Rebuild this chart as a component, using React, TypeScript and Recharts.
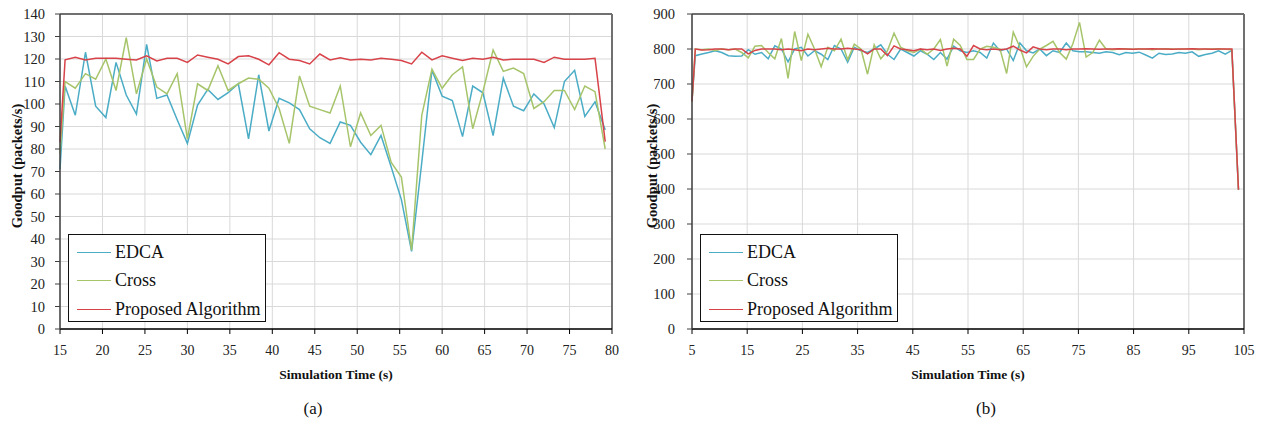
import React from 'react';
import { LineChart, Line, XAxis, YAxis, CartesianGrid, ReferenceLine } from 'recharts';

// ---------- Panel (a) ----------
const timeA = [15, 15.6, 16.8, 18, 19.2, 20.4, 21.6, 22.8, 24, 25.2, 26.4, 27.6, 28.8, 30, 31.2, 32.4, 33.6, 34.8, 36, 37.2, 38.4, 39.6, 40.8, 42, 43.2, 44.4, 45.6, 46.8, 48, 49.2, 50.4, 51.6, 52.8, 54, 55.2, 56.4, 57.6, 58.8, 60, 61.2, 62.4, 63.6, 64.8, 66, 67.2, 68.4, 69.6, 70.8, 72, 73.2, 74.4, 75.6, 76.8, 78, 79.2];
const edcaA = [71, 108, 95, 123, 99, 94, 118.5, 104, 95.5, 126.5, 102.5, 104, 93, 82.5, 99.5, 106.5, 102, 105, 109, 84.5, 113, 88, 102.5, 100.5, 97.5, 89, 85, 82.5, 92, 90.5, 83, 77.5, 86, 72, 57.5, 34.5, 74, 115, 103.5, 101.5, 85.5, 108, 105, 86, 111.5, 99, 97, 104.5, 100, 89.5, 110, 115, 94.5, 101, 88.5];
const crossA = [78, 110, 107, 113.5, 111, 120, 106, 129.5, 104.5, 120, 107.5, 104.5, 113.5, 84.5, 109, 106, 117, 106, 109, 111.5, 111, 107, 98, 82.5, 112.5, 99, 97.5, 96, 108, 81, 96, 86, 90.5, 74, 67.5, 35, 95, 115.5, 107, 113, 116.5, 89, 105.5, 124, 114.5, 116, 113.5, 98, 101, 106, 106, 97.5, 108, 105.5, 80];
const proposedA = [83, 119.6, 120.8, 119.6, 120.3, 120.3, 120.3, 119.9, 119.6, 121.4, 119.1, 120.3, 120.3, 118.5, 121.8, 120.8, 119.9, 117.8, 121.1, 121.4, 119.9, 117.4, 122.8, 119.9, 119.3, 117.8, 122.2, 119.6, 120.6, 119.6, 119.9, 119.6, 120.3, 119.9, 119.3, 117.8, 123.0, 119.6, 121.4, 120.3, 119.3, 120.3, 119.9, 120.8, 119.6, 119.9, 119.9, 119.9, 118.5, 120.8, 119.9, 119.9, 119.9, 120.3, 83.3];
const xTicksA = [15, 20, 25, 30, 35, 40, 45, 50, 55, 60, 65, 70, 75, 80];
const yTicksA = [0, 10, 20, 30, 40, 50, 60, 70, 80, 90, 100, 110, 120, 130, 140];

// ---------- Panel (b) ----------
const timeB = [5, 5.6, 6.8, 8, 9.2, 10.4, 11.6, 12.8, 14, 15.2, 16.4, 17.6, 18.8, 20, 21.2, 22.4, 23.6, 24.8, 26, 27.2, 28.4, 29.6, 30.8, 32, 33.2, 34.4, 35.6, 36.8, 38, 39.2, 40.4, 41.6, 42.8, 44, 45.2, 46.4, 47.6, 48.8, 50, 51.2, 52.4, 53.6, 54.8, 56, 57.2, 58.4, 59.6, 60.8, 62, 63.2, 64.4, 65.6, 66.8, 68, 69.2, 70.4, 71.6, 72.8, 74, 75.2, 76.4, 77.6, 78.8, 80, 81.2, 82.4, 83.6, 84.8, 86, 87.2, 88.4, 89.6, 90.8, 92, 93.2, 94.4, 95.6, 96.8, 98, 99.2, 100.4, 101.6, 102.8, 104];
const edcaB = [655, 781, 786, 790, 795, 790, 781, 779, 780, 798, 785, 790, 772, 809, 800, 763, 800, 805, 780, 795, 785, 770, 810, 800, 762, 805, 795, 790, 800, 812, 785, 770, 800, 790, 780, 795, 785, 770, 790, 771, 808, 795, 790, 795, 790, 774, 817, 795, 800, 767, 817, 795, 789, 800, 781, 795, 790, 817, 795, 792, 792, 790, 788, 792, 790, 784, 790, 788, 791, 783, 774, 788, 784, 786, 790, 788, 792, 779, 784, 788, 795, 785, 796, 398];
const crossB = [650, 800, 798, 800, 796, 800, 798, 800, 790, 775, 808, 810, 790, 772, 830, 716, 850, 767, 842, 800, 749, 805, 795, 828, 769, 814, 800, 728, 812, 772, 795, 845, 805, 795, 790, 800, 785, 800, 827, 751, 828, 810, 770, 770, 800, 808, 805, 800, 730, 848, 805, 749, 779, 800, 810, 822, 790, 771, 815, 876, 777, 790, 825, 800, 798, 800, 801, 799, 800, 800, 798, 800, 801, 800, 799, 800, 800, 798, 800, 800, 801, 799, 798, 398];
const proposedB = [650, 800, 797, 798, 800, 800, 798, 800, 800, 786, 796, 800, 800, 800, 798, 800, 798, 795, 800, 798, 800, 802, 800, 800, 802, 800, 798, 786, 800, 800, 781, 809, 800, 798, 795, 800, 798, 800, 796, 800, 802, 800, 779, 810, 800, 798, 800, 798, 800, 808, 797, 789, 806, 800, 798, 800, 800, 798, 800, 800, 801, 800, 799, 800, 800, 801, 800, 799, 800, 800, 801, 800, 800, 799, 800, 800, 801, 800, 800, 799, 800, 800, 800, 398];
const xTicksB = [5, 15, 25, 35, 45, 55, 65, 75, 85, 95, 105];
const yTicksB = [0, 100, 200, 300, 400, 500, 600, 700, 800, 900];

const seriesNames = ['EDCA', 'Cross', 'Proposed Algorithm'];
const seriesKeys = ['edca', 'cross', 'proposed'];
const seriesColors = ['#4bacc6', '#a6c46a', '#d8434a'];
const xTitle = 'Simulation Time (s)';
const yTitle = 'Goodput (packets/s)';

const SERIF = "'Times New Roman', 'Liberation Serif', 'DejaVu Serif', serif";

function buildRows(time: number[], e: number[], c: number[], p: number[]) {
  return time.map((t, i) => ({ t, edca: e[i], cross: c[i], proposed: p[i] }));
}

const dataA = buildRows(timeA, edcaA, crossA, proposedA);
const dataB = buildRows(timeB, edcaB, crossB, proposedB);

function LegendBox({ left }: { left: number }) {
  return (
    <div
      style={{
        position: 'absolute',
        left,
        top: 234,
        width: 196,
        height: 86,
        border: '1.5px solid #111',
        background: '#fff',
        fontFamily: SERIF,
        fontSize: 18,
        color: '#111',
      }}
    >
      {seriesNames.map((name, i) => (
        <div
          key={name}
          style={{ position: 'absolute', left: 8, top: 17 + i * 28.5 - 10, height: 20, display: 'flex', alignItems: 'center', whiteSpace: 'nowrap' }}
        >
          <div style={{ width: 34, height: 0, borderTop: `1.5px solid ${seriesColors[i]}`, marginRight: 4 }} />
          <span>{name}</span>
        </div>
      ))}
    </div>
  );
}

function Panel(props: {
  left: number;
  data: any[];
  xTicks: number[];
  yTicks: number[];
  yTickMargin: number;
  caption: string;
  captionX: number;
  yTitleX: number;
}) {
  const { left, data, xTicks, yTicks, yTickMargin, caption, captionX, yTitleX } = props;
  const xMin = xTicks[0];
  const xMax = xTicks[xTicks.length - 1];
  const yMax = yTicks[yTicks.length - 1];
  const plotLeft = left + 60;
  const plotCenter = left + 60 + 552 / 2;
  return (
    <>
      <div style={{ position: 'absolute', left, top: 0, width: 631, height: 362 }}>
        <LineChart width={631} height={362} data={data} margin={{ top: 14, right: 19, left: 0, bottom: 2 }}>
          <CartesianGrid stroke="#d9d9d9" strokeWidth={1} />
          <XAxis
            dataKey="t"
            type="number"
            domain={[xMin, xMax]}
            ticks={xTicks}
            interval={0}
            height={31}
            tickSize={5}
            tickMargin={11}
            axisLine={{ stroke: '#000', strokeWidth: 1.5 }}
            tickLine={{ stroke: '#000' }}
            tick={{ fill: '#222', fontSize: 14, fontFamily: SERIF }}
          />
          <YAxis
            type="number"
            domain={[0, yMax]}
            ticks={yTicks}
            interval={0}
            width={60}
            tickSize={5}
            tickMargin={yTickMargin}
            axisLine={{ stroke: '#404040', strokeWidth: 1.5 }}
            tickLine={{ stroke: '#404040' }}
            tick={{ fill: '#222', fontSize: 14.5, fontFamily: SERIF }}
          />
          <ReferenceLine y={yMax} stroke="#707070" strokeWidth={2} />
          <ReferenceLine x={xMax} stroke="#707070" strokeWidth={2} />
          {seriesKeys.map((k, i) => (
            <Line
              key={k}
              type="linear"
              dataKey={k}
              name={seriesNames[i]}
              stroke={seriesColors[i]}
              strokeWidth={1.5}
              dot={false}
              activeDot={false}
              isAnimationActive={false}
            />
          ))}
        </LineChart>
      </div>
      <LegendBox left={plotLeft + 8} />
      <div
        style={{
          position: 'absolute',
          left: plotCenter,
          top: 375,
          transform: 'translate(-50%, -50%)',
          whiteSpace: 'nowrap',
          fontFamily: SERIF,
          fontWeight: 'bold',
          fontSize: 13.5,
          color: '#111',
        }}
      >
        {xTitle}
      </div>
      <div
        style={{
          position: 'absolute',
          left: yTitleX,
          top: 166,
          transform: 'translate(-50%, -50%) rotate(-90deg)',
          whiteSpace: 'nowrap',
          fontFamily: SERIF,
          fontWeight: 'bold',
          fontSize: 14.5,
          color: '#111',
        }}
      >
        {yTitle}
      </div>
      <div
        style={{
          position: 'absolute',
          left: captionX,
          top: 409,
          transform: 'translate(-50%, -50%)',
          whiteSpace: 'nowrap',
          fontFamily: SERIF,
          fontSize: 17,
          color: '#111',
        }}
      >
        {caption}
      </div>
    </>
  );
}

export default function App() {
  return (
    <div style={{ position: 'absolute', left: 0, top: 0, width: 1263, height: 425, background: '#fff', overflow: 'hidden' }}>
      <Panel left={0} data={dataA} xTicks={xTicksA} yTicks={yTicksA} yTickMargin={10} caption="(a)" captionX={313} yTitleX={17} />
      <Panel left={632} data={dataB} xTicks={xTicksB} yTicks={yTicksB} yTickMargin={12} caption="(b)" captionX={986} yTitleX={652} />
    </div>
  );
}
